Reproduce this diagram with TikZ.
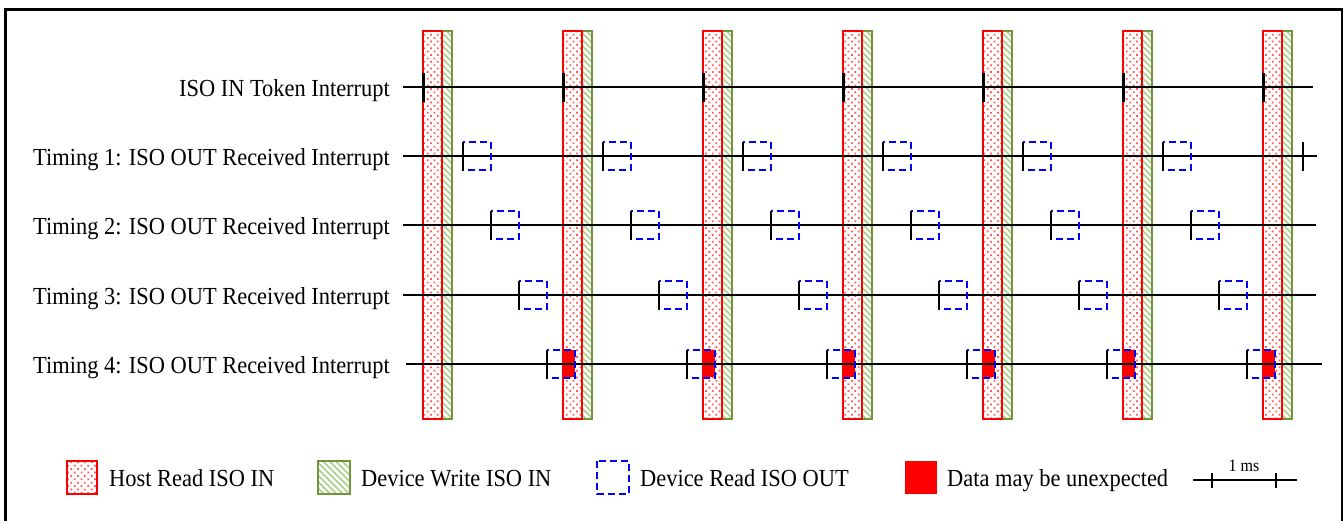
\documentclass[tikz,border=0pt]{standalone}
\usepackage{fontspec}
\setmainfont{Liberation Serif}[FakeStretch=0.915]
\usepackage{tikz}
\usetikzlibrary{patterns.meta}

\definecolor{dotred}{RGB}{255,90,90}
\definecolor{hatchgreen}{RGB}{165,207,135}
\definecolor{edgegreen}{RGB}{118,146,60}
\newcommand\rowfont{\fontsize{24.5}{28}\selectfont}

\begin{document}
\begin{tikzpicture}
	[x=1pt,y=-1pt,
		host bar/.style={draw=red,line width=1.2pt,pattern={Dots[angle=45,distance=4.8pt,radius=1.25pt]},pattern color=dotred},
		dev bar/.style={draw=edgegreen,line width=1.2pt,pattern={Lines[angle=-45,distance=4.5pt,line width=1.6pt]},pattern color=hatchgreen},
		read box/.style={draw=blue,line width=1.4pt,dash pattern=on 7pt off 4pt},
		tick mark/.style={line width=2.2pt},
		time line/.style={line width=1.2pt},
		row label/.style={anchor=base east,inner sep=0pt,font=\rowfont},
		key label/.style={anchor=base west,inner sep=0pt,font=\rowfont}]

	\useasboundingbox (0,0) rectangle (1344,520);
	\draw[line width=2.5pt] (5.5,9.5) rectangle (1342,530);

	% host read / device write slots
	\foreach \k in {0,...,6} {
		\draw[dev bar] ({442+140*\k},31) rectangle ++(10,388);
		\draw[host bar] ({423+140*\k},31) rectangle ++(19,388);
	}
	\foreach \k in {0,...,5}
		\fill[red] ({563+140*\k},350) rectangle ++(12,27);

	\node[row label] (tok) at (390,96)  {ISO IN Token Interrupt};
	\node[row label] (t1)  at (390,165) {Timing 1: ISO OUT Received Interrupt};
	\node[row label] (t2)  at (390,234) {Timing 2: ISO OUT Received Interrupt};
	\node[row label] (t3)  at (390,304) {Timing 3: ISO OUT Received Interrupt};
	\node[row label] (t4)  at (390,373) {Timing 4: ISO OUT Received Interrupt};

	\coordinate (tok start) at (403,87);  \coordinate (tok end) at (1313,87);
	\coordinate (t1 start)  at (403,156); \coordinate (t1 end)  at (1317,156);
	\coordinate (t2 start)  at (403,225); \coordinate (t2 end)  at (1316,225);
	\coordinate (t3 start)  at (403,295); \coordinate (t3 end)  at (1316,295);
	\coordinate (t4 start)  at (406,364); \coordinate (t4 end)  at (1322,364);
	\foreach \r in {tok,t1,t2,t3,t4}
		\draw[time line] (\r\space start) -- (\r\space end);

	\foreach \k in {0,...,6}
		\draw[tick mark] ({423.5+140*\k},72.5) -- ++(0,29);
	\foreach \r/\y in {0/156,1/225,2/295,3/364}
		\foreach \k in {0,...,5} {
			\draw[read box] ({463+28*\r+140*\k},\y-14) rectangle ++(28,28);
			\draw[tick mark] ({463+28*\r+140*\k},\y-14.5) -- ++(0,29);
		}
	\draw[tick mark] (1303,141.5) -- ++(0,29);

	% legend
	\draw[host bar] (67,461) rectangle (97,494);
	\node[key label] (k host) at (109,486) {Host Read ISO IN};
	\draw[dev bar] (318,461) rectangle (350,494);
	\node[key label] (k dev) at (361,486) {Device Write ISO IN};
	\draw[read box] (597,461) rectangle (629,494);
	\node[key label] (k read) at (640,486) {Device Read ISO OUT};
	\fill[red] (905,461) rectangle (937,494);
	\node[key label] (k late) at (947,486) {Data may be unexpected};

	\coordinate (ms start) at (1193,480); \coordinate (ms end) at (1297,480);
	\draw[time line] (ms start) -- (ms end);
	\draw[tick mark] (1212,472.5) -- ++(0,15);
	\draw[tick mark] (1276,472.5) -- ++(0,15);
	\node[anchor=base,inner sep=0pt,font=\fontsize{17.5}{20}\selectfont] (ms) at (1244,471.5) {1 ms};

\end{tikzpicture}
\end{document}
